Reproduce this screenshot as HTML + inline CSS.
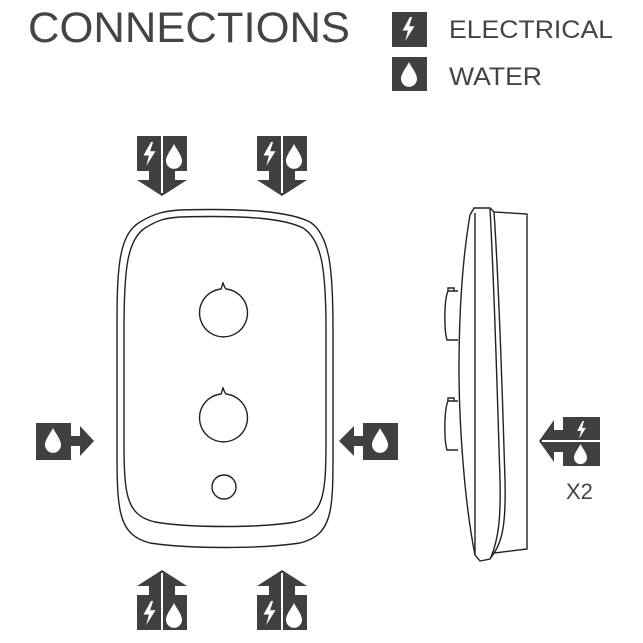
<!DOCTYPE html>
<html><head><style>html,body{margin:0;padding:0;background:#fff;}svg{display:block}</style></head>
<body>
<svg width="643" height="643" viewBox="0 0 643 643" xmlns="http://www.w3.org/2000/svg">
<defs>
<path id="bolt" d="M6 0 L1 9 H4.6 L2.8 16 L9 6.2 H5.4 L7.4 0 Z" fill="#fff"/>
<path id="drop" d="M5 0 C4 2.5 0 7 0 10.5 A5 5 0 0 0 10 10.5 C10 7 6 2.5 5 0 Z" fill="#fff"/>
<g id="down">
<path d="M0 0 H50 V35 H38 V44 H50 L25 60 L0 44 H12 V35 H0 Z" fill="#404040"/>
<line x1="25" y1="0" x2="25" y2="57" stroke="#fff" stroke-width="2"/>
<use href="#bolt" transform="translate(5,6) scale(1.5)"/>
<use href="#drop" transform="translate(29,8) scale(1.6)"/>
</g>
<g id="up">
<path d="M0 60 H50 V25 H38 V16 H50 L25 0 L0 16 H12 V25 H0 Z" fill="#404040"/>
<line x1="25" y1="3" x2="25" y2="60" stroke="#fff" stroke-width="2"/>
<use href="#bolt" transform="translate(5,31) scale(1.5)"/>
<use href="#drop" transform="translate(29,33) scale(1.6)"/>
</g>
</defs>

<text x="28" y="42" font-family="Liberation Sans, sans-serif" font-size="43" fill="#444" textLength="322" lengthAdjust="spacingAndGlyphs">CONNECTIONS</text>
<rect x="392" y="12" width="35" height="35" fill="#404040"/>
<use href="#bolt" transform="translate(401,17) scale(1.5)"/>
<rect x="392" y="57" width="35" height="34" fill="#404040"/>
<use href="#drop" transform="translate(401,62) scale(1.6)"/>
<text x="449" y="38" font-family="Liberation Sans, sans-serif" font-size="25" fill="#444" textLength="164" lengthAdjust="spacingAndGlyphs">ELECTRICAL</text>
<text x="449" y="85" font-family="Liberation Sans, sans-serif" font-size="25" fill="#444" textLength="93" lengthAdjust="spacingAndGlyphs">WATER</text>

<use href="#down" x="137" y="136"/>
<use href="#down" x="257" y="136"/>
<use href="#up" x="137" y="570"/>
<use href="#up" x="257" y="570"/>

<path d="M36 423 H71 V436 H80 V426 L94 441 L80 456 V446 H71 V460 H36 Z" fill="#404040"/>
<use href="#drop" transform="translate(45,428) scale(1.6)"/>
<path d="M398 423 H363 V436 H354 V426 L339 441 L354 456 V446 H363 V460 H398 Z" fill="#404040"/>
<use href="#drop" transform="translate(372,428) scale(1.6)"/>
<path d="M600 417 H563 V430 H554 V420 L539 441 L554 462 V452 H563 V466 H600 Z" fill="#404040"/>
<line x1="542" y1="441" x2="600" y2="441" stroke="#fff" stroke-width="2"/>
<use href="#bolt" transform="translate(576,421) scale(1.1)"/>
<use href="#drop" transform="translate(574,444) scale(1.3)"/>
<text x="566" y="499" font-family="Liberation Sans, sans-serif" font-size="22" fill="#444">X2</text>

<g fill="none" stroke="#222" stroke-width="1.4">
<path d="M180 210 C250 208 290 212 310 222 C330 235 333 270 333 330 V450 C333 510 333 535 300 543 C260 549 190 549 150 543 C118 535 117 510 117 450 V330 C117 270 118 235 140 222 C155 213 165 211 180 210 Z"/>
<path d="M180 217 C250 215 285 219 303 228 C322 240 326 270 326 330 V440 C326 495 324 515 295 522 C260 528 190 528 155 522 C126 515 124 495 124 440 V330 C124 270 127 240 145 228 C158 220 165 218 180 217 Z"/>
<path d="M221 289 C222 287 222 285 223 283 C224 285 224 287 226 289 A24 24 0 1 1 221 289 Z"/>
<path d="M221 394 C222 392 222 390 223 388 C224 390 224 392 226 394 A24 24 0 1 1 221 394 Z"/>
<circle cx="224" cy="487" r="12"/>
</g>

<g fill="none" stroke="#222" stroke-width="1.4">
<path d="M474 208 L490 208 L494 212 L527 214 L527 549 L494 553 L490 559 L480 561 L475 555 C464 500 459 420 459 370 C459 300 464 250 470 215 Z"/>
<line x1="475" y1="213" x2="475" y2="555"/>
<path d="M490 209 C495 300 498 420 500 480 C501 520 498 540 491 557"/>
<path d="M494 212 C500 300 503 420 505 480 C506 520 503 540 494 553"/>
<path d="M458 291 H448 C444 300 444 330 447 340 H458"/>
<path d="M448 291 V288 H454 V291"/>
<path d="M458 401 H448 C444 410 444 440 447 450 H458"/>
<path d="M448 401 V398 H454 V401"/>
</g>
</svg>
</body></html>
